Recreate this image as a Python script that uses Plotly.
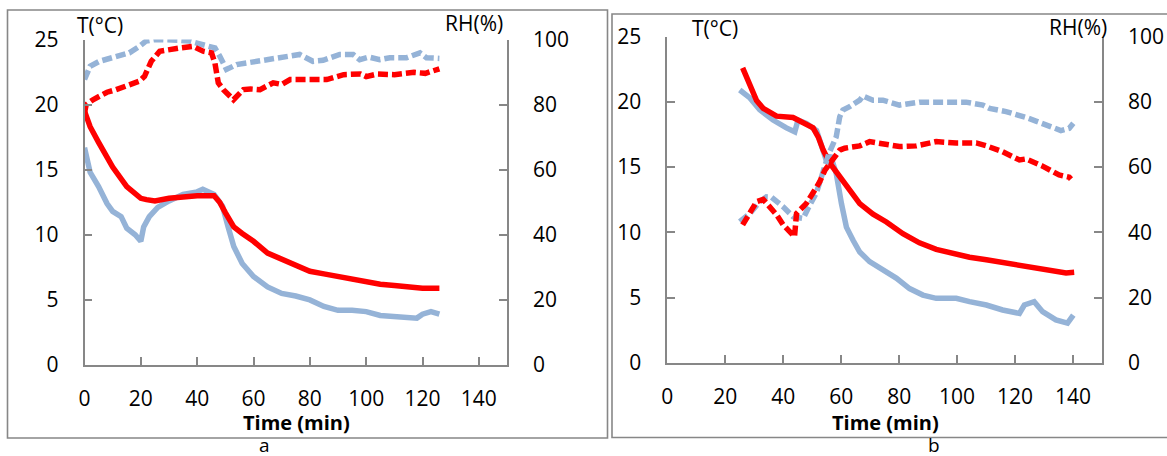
import plotly.graph_objects as go

# ---------------- Panel a data ----------------
a_T_red_t = [0, 2, 5, 10, 15, 20, 22, 25, 30, 35, 40, 46, 48, 50, 53, 56, 60, 65, 70, 75, 80, 85, 90, 95, 100, 105, 110, 115, 120, 126]
a_T_red = [19.5, 18.3, 17.1, 15.2, 13.7, 12.8, 12.7, 12.6, 12.8, 12.9, 13.0, 13.0, 12.5, 11.7, 10.6, 10.1, 9.5, 8.6, 8.1, 7.6, 7.2, 7.0, 6.8, 6.5, 6.4, 6.2, 6.1, 5.95, 5.9, 5.9]

a_T_blue_t = [0, 1, 2, 5, 8, 10, 13, 15, 18, 20, 21, 23, 26, 30, 35, 40, 42, 46, 49, 51, 53, 56, 60, 65, 70, 75, 80, 85, 90, 95, 100, 105, 110, 115, 118, 120, 123, 126]
a_T_blue = [16.7, 15.5, 14.8, 13.7, 12.4, 11.8, 11.4, 10.5, 10.0, 9.5, 10.6, 11.4, 12.1, 12.6, 13.1, 13.3, 13.5, 13.1, 12.2, 10.6, 9.1, 7.8, 6.8, 6.0, 5.5, 5.3, 5.0, 4.5, 4.2, 4.2, 4.1, 3.8, 3.7, 3.6, 3.6, 3.9, 4.1, 3.9]

a_RH_blue_t = [0, 1, 2, 5.3, 11.2, 15.9, 19.5, 21.8, 25, 27.7, 33, 37.2, 42, 46.3, 48, 50.4, 54, 57.6, 62.3, 65, 68.3, 72.8, 76.4, 81.1, 84.7, 90.6, 95.4, 97.7, 101, 104.8, 108.4, 114.3, 119.1, 121.4, 125, 126]
a_RH_blue = [87.7, 90, 91.8, 93.3, 94.9, 95.9, 97.9, 99.5, 100, 100, 99.8, 99.5, 98.5, 97.4, 94.9, 90.8, 92.3, 92.8, 93.3, 93.8, 94.4, 94.9, 95.4, 93.3, 93.6, 95.4, 95.4, 93.8, 94.6, 93.8, 94.4, 94.4, 95.9, 94.4, 94.4, 94.2]

a_RH_red_t = [0, 0.6, 3, 5.3, 8, 11.2, 15, 19.5, 21.3, 23.7, 26.7, 30, 33.8, 38.5, 42.1, 45.1, 46.3, 47.5, 49.3, 52.9, 56.4, 59, 62.3, 67, 70, 73, 80, 86, 92, 98, 100, 104, 110, 117, 121, 126]
a_RH_red = [77.5, 80, 81.5, 82.6, 83.8, 84.6, 85.8, 87.2, 88.7, 93.3, 96.4, 97, 97.4, 97.9, 96.4, 95.9, 92.8, 86.7, 84.6, 81.5, 84.6, 84.8, 84.6, 86.7, 86.2, 87.7, 87.9, 87.7, 89.2, 89.4, 88.6, 89.4, 89.2, 89.9, 89.6, 91.0]

# ---------------- Panel b data ----------------
b_T_red_t = [26, 28.5, 30.8, 33.1, 37.7, 43.4, 45.7, 50.3, 52.1, 53.8, 56.1, 58.3, 61.8, 66.4, 71, 75.6, 81.3, 87, 92.8, 98.5, 104.3, 110.1, 115.7, 121.5, 127.2, 133, 137.6, 140.4]
b_T_red = [22.6, 21.4, 20.1, 19.5, 18.9, 18.8, 18.5, 18.0, 17.3, 16.3, 15.3, 14.6, 13.5, 12.2, 11.4, 10.8, 9.9, 9.2, 8.7, 8.4, 8.1, 7.9, 7.7, 7.4, 7.25, 7.07, 6.9, 6.95]

b_T_blue_t = [25, 28.5, 31.9, 36.5, 41.1, 44, 45.1, 48, 51.5, 53.8, 54.9, 56.3, 58.3, 60.1, 61.8, 64.1, 66.4, 69.8, 74.4, 79, 83.6, 88.2, 92.8, 99.7, 104.3, 110.1, 115.7, 121.5, 123.2, 126.6, 129.5, 134.1, 138.1, 140.1]
b_T_blue = [20.9, 20.3, 19.4, 18.6, 18.0, 17.7, 18.6, 18.35, 17.8, 16.3, 15.5, 15.9, 14.5, 12.2, 10.4, 9.4, 8.5, 7.76, 7.1, 6.5, 5.7, 5.2, 4.95, 4.95, 4.7, 4.44, 4.06, 3.8, 4.44, 4.7, 3.93, 3.3, 3.05, 3.67]

b_RH_blue_t = [25, 28.5, 31.9, 34.2, 35.9, 39.9, 43.4, 46.9, 48.6, 51.4, 55.7, 58.3, 59.5, 60.6, 62.9, 66.4, 67.5, 71, 74.4, 80.1, 87, 93.9, 100.8, 103.1, 108.9, 111.2, 116.9, 119.2, 123.8, 127.2, 131.8, 135.8, 138.7, 140.1]
b_RH_blue = [43.3, 45.8, 49.4, 50.9, 50.8, 47.9, 44.8, 44.3, 47.4, 52, 64, 69.3, 75.4, 77.5, 78.5, 80.5, 81.8, 80.5, 80.5, 79, 79.9, 79.9, 79.5, 79.9, 79, 78, 77, 76.5, 75.2, 74.1, 72.6, 71.2, 71.9, 73.4]

b_RH_red_t = [26, 28, 30.8, 33.1, 34.8, 37.7, 40, 43.9, 44.6, 48, 50.9, 52.6, 54.4, 56.6, 59.5, 61.2, 66.4, 69.8, 73.3, 80.1, 85.9, 92.8, 99.7, 106.6, 110.1, 115.7, 121.5, 123.8, 129.5, 131.8, 135.2, 138.7, 139.3]
b_RH_red = [42.3, 45.4, 49.4, 50.1, 48.4, 45.4, 42.3, 38.7, 45.8, 48.9, 53, 55.5, 59.1, 61.7, 65.2, 65.8, 66.5, 67.8, 67.4, 66.3, 66.5, 67.8, 67.4, 67.4, 66.5, 64.7, 62.2, 62.5, 60.3, 59.1, 57.6, 56.9, 56.3]

x_ticks = [0, 20, 40, 60, 80, 100, 120, 140]
T_ticks = [0, 5, 10, 15, 20, 25]
RH_ticks = [0, 20, 40, 60, 80, 100]

W, H = 1167, 456
RED = '#FF0000'
BLUE = '#95B3D7'
GREY = '#878787'
FONT = 'Open Sans'
LW = 5.5
DASH = '10px,4px'


def px(x):
    return x / W


def py(y):
    return 1 - y / H


fig = go.Figure()


def add(t, v, color, dash, xa, ya):
    fig.add_trace(go.Scatter(x=t, y=v, mode='lines', xaxis=xa, yaxis=ya,
                             line=dict(color=color, width=LW, dash=dash),
                             showlegend=False, hoverinfo='skip'))


# Panel a
add(a_T_blue_t, a_T_blue, BLUE, 'solid', 'x', 'y')
add(a_RH_blue_t, a_RH_blue, BLUE, DASH, 'x', 'y2')
add(a_T_red_t, a_T_red, RED, 'solid', 'x', 'y')
add(a_RH_red_t, a_RH_red, RED, DASH, 'x', 'y2')
# Panel b
add(b_T_blue_t, b_T_blue, BLUE, 'solid', 'x2', 'y3')
add(b_RH_blue_t, b_RH_blue, BLUE, DASH, 'x2', 'y4')
add(b_T_red_t, b_T_red, RED, 'solid', 'x2', 'y3')
add(b_RH_red_t, b_RH_red, RED, DASH, 'x2', 'y4')

tickfont = dict(family=FONT, size=21, color='#000')
common = dict(showgrid=False, zeroline=False, showline=True, linecolor=GREY, linewidth=1.6,
              ticks='inside', ticklen=8, tickwidth=1.5, tickcolor=GREY, tickfont=tickfont,
              fixedrange=True, automargin=False)

xa_dom = [px(84.5), px(507)]
xb_dom = [px(667.3), px(1102)]
ya_dom = [py(365), py(39.5)]
yb_dom = [py(363), py(36.5)]

fig.update_layout(
    template='none',
    width=W, height=H,
    margin=dict(l=0, r=0, t=0, b=0, autoexpand=False),
    paper_bgcolor='white', plot_bgcolor='white',
    xaxis=dict(domain=xa_dom, range=[0, 150], tickvals=x_ticks, anchor='y',
               ticklabelstandoff=14, **common),
    yaxis=dict(domain=ya_dom, range=[0, 25], tickvals=T_ticks, anchor='x',
               ticklabelstandoff=20, **common),
    yaxis2=dict(domain=ya_dom, range=[0, 100], tickvals=RH_ticks, anchor='x', overlaying='y',
                side='right', ticklabelstandoff=20, **common),
    xaxis2=dict(domain=xb_dom, range=[0, 150], tickvals=x_ticks, anchor='y3',
                ticklabelstandoff=14, **common),
    yaxis3=dict(domain=yb_dom, range=[0, 25], tickvals=T_ticks, anchor='x2',
                ticklabelstandoff=20, **common),
    yaxis4=dict(domain=yb_dom, range=[0, 100], tickvals=RH_ticks, anchor='x2', overlaying='y3',
                side='right', ticklabelstandoff=20, **common),
)

# panel frames
fig.add_shape(type='rect', xref='paper', yref='paper', x0=px(7.5), x1=px(607.5), y0=py(438), y1=py(10),
              line=dict(color=GREY, width=1.6), fillcolor='rgba(0,0,0,0)', layer='below')
fig.add_shape(type='rect', xref='paper', yref='paper', x0=px(612), x1=px(1175), y0=py(437.5), y1=py(14),
              line=dict(color=GREY, width=1.6), fillcolor='rgba(0,0,0,0)', layer='below')

labels = [
    ('T(°C)', 100, 25, 21, False),
    ('RH(%)', 474, 23, 21, False),
    ('Time (min)', 296, 422, 20, True),
    ('a', 264, 445, 19, False),
    ('T(°C)', 715, 28, 21, False),
    ('RH(%)', 1078, 27, 21, False),
    ('Time (min)', 885, 422, 20, True),
    ('b', 934, 445, 19, False),
]
for txt, x, y, size, bold in labels:
    fig.add_annotation(text=f'<b>{txt}</b>' if bold else txt, x=px(x), y=py(y), xref='paper', yref='paper',
                       showarrow=False, xanchor='center', yanchor='middle',
                       font=dict(family=FONT, size=size, color='#000'))

fig.write_html('out.html', config={'displayModeBar': False},
               post_script="document.body.style.margin='0px';document.body.style.overflow='hidden';")
